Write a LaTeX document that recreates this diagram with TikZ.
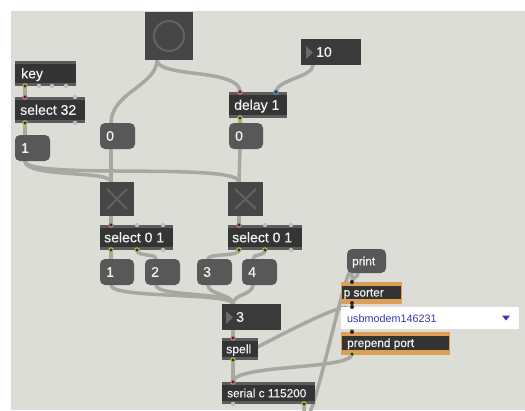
\documentclass[tikz,border=0pt]{standalone}
\usepackage{fontspec}
\setmainfont{Liberation Sans}
\newfontfamily\maxfnt{Liberation Sans}[FakeBold=0.5]
\definecolor{canvas}{RGB}{221,221,215}
\definecolor{cordc}{RGB}{168,168,163}
\definecolor{objbody}{RGB}{52,52,52}
\definecolor{objstripe}{RGB}{92,92,92}
\definecolor{msgfill}{RGB}{88,88,88}
\definecolor{uifill}{RGB}{70,70,70}
\definecolor{uimark}{RGB}{98,98,98}
\definecolor{numfill}{RGB}{58,58,58}
\definecolor{numtri}{RGB}{105,105,105}
\definecolor{orangec}{RGB}{221,158,88}
\definecolor{inring}{RGB}{215,135,135}
\definecolor{outring}{RGB}{190,195,90}
\definecolor{bluein}{RGB}{90,165,190}
\definecolor{menublue}{RGB}{55,55,175}
\definecolor{unusedc}{RGB}{190,190,190}
\definecolor{darkdot}{RGB}{40,40,40}
\pgfdeclarelayer{bg}
\pgfdeclarelayer{cords}
\pgfsetlayers{bg,cords,main}
\newcommand\fntA{\maxfnt\fontsize{14}{16}\selectfont}
\newcommand\fntB{\maxfnt\fontsize{11.8}{14}\selectfont}
\newcommand\fntC{\fontsize{10.8}{13}\selectfont}
\begin{document}
\begin{tikzpicture}[x=1pt,y=-1pt,
 base/.style={anchor=north west, inner sep=0pt, outer sep=0pt},
 obj/.style={base, fill=objbody, path picture={
   \fill[objstripe] (path picture bounding box.north west) rectangle ([yshift=-3pt]path picture bounding box.north east);
   \fill[objstripe] ([yshift=3pt]path picture bounding box.south west) rectangle (path picture bounding box.south east);}},
 oobj/.style={base, fill=objbody, draw=orangec, line width=1pt, path picture={
   \fill[orangec] (path picture bounding box.north west) rectangle ([yshift=-4pt]path picture bounding box.north east);
   \fill[orangec] ([yshift=4pt]path picture bounding box.south west) rectangle (path picture bounding box.south east);}},
 msg/.style={base, fill=msgfill, rounded corners=5pt},
 ui/.style={base, fill=uifill},
 num/.style={base, fill=numfill},
 menu/.style={base, fill=white},
 txt/.style={anchor=base west, inner sep=0pt, text=white!95!black, font=\fntA},
 stxt/.style={txt, font=\fntB},
 cord/.style={draw=cordc, line width=3.5pt, line cap=round},
 inl/.style={fill=objbody, draw=inring, line width=1pt},
 outl/.style={fill=objbody, draw=outring, line width=1pt},
 unl/.style={fill=unusedc},
 ddot/.style={fill=darkdot},
 xmark/.style={draw=uimark, line width=2pt},
 tri/.style={fill=numtri}
]
\useasboundingbox (0,0) rectangle (525,410);
\begin{pgfonlayer}{bg}
\fill[white] (0,0) rectangle (525,410);
\fill[canvas] (11,11) rectangle (525,410);
\end{pgfonlayer}

% ---------- objects ----------
\node[obj, minimum width=61pt, minimum height=25pt] (key) at (15,61) {};
\node[txt] (keyT) at ([shift={(6,4.8)}]key.west) {key};
\node[obj, minimum width=70pt, minimum height=26pt] (sel32) at (15,97) {};
\node[txt] (sel32T) at ([shift={(5,4.8)}]sel32.west) {select 32};
\node[msg, minimum width=35pt, minimum height=26pt] (msgA) at (15,135) {};
\node[txt] (msgAT) at ([shift={(6,4.8)}]msgA.west) {1};

\node[ui, minimum width=48pt, minimum height=48pt] (bang) at (145,12) {};
\draw[draw=uimark, line width=2pt] (bang.center) circle[radius=15pt];

\node[msg, minimum width=35pt, minimum height=26pt] (zeroL) at (100,123) {};
\node[txt] (zeroLT) at ([shift={(6,4.8)}]zeroL.west) {0};
\node[obj, minimum width=58pt, minimum height=26pt] (delay) at (229,92) {};
\node[txt] (delayT) at ([shift={(5,4.8)}]delay.west) {delay 1};
\node[num, minimum width=60pt, minimum height=26pt] (numTen) at (301,39) {};
\fill[tri] ([shift={(5,7)}]numTen.north west) -- ([shift={(5,20)}]numTen.north west) -- ([shift={(12,13.5)}]numTen.north west) -- cycle;
\node[txt] (numTenT) at ([shift={(15,4.8)}]numTen.west) {10};
\node[msg, minimum width=34pt, minimum height=26pt] (zeroR) at (229,123) {};
\node[txt] (zeroRT) at ([shift={(6,4.8)}]zeroR.west) {0};

\node[ui, minimum width=34pt, minimum height=34pt] (togL) at (100,182) {};
\draw[xmark] ([shift={(7,7)}]togL.north west) -- ([shift={(-7,-7)}]togL.south east);
\draw[xmark] ([shift={(-7,7)}]togL.north east) -- ([shift={(7,-7)}]togL.south west);
\node[ui, minimum width=35pt, minimum height=34pt] (togR) at (228,182) {};
\draw[xmark] ([shift={(7,7)}]togR.north west) -- ([shift={(-7,-7)}]togR.south east);
\draw[xmark] ([shift={(-7,7)}]togR.north east) -- ([shift={(7,-7)}]togR.south west);

\node[obj, minimum width=73pt, minimum height=25pt] (selL) at (100,225) {};
\node[txt] (selLT) at ([shift={(4,4.8)}]selL.west) {select 0 1};
\node[obj, minimum width=74pt, minimum height=25pt] (selR) at (228,225) {};
\node[txt] (selRT) at ([shift={(4,4.8)}]selR.west) {select 0 1};

\node[msg, minimum width=34pt, minimum height=26pt] (mOne) at (100,259) {};
\node[txt] (mOneT) at ([shift={(6,4.8)}]mOne.west) {1};
\node[msg, minimum width=35pt, minimum height=26pt] (mTwo) at (145,259) {};
\node[txt] (mTwoT) at ([shift={(6,4.8)}]mTwo.west) {2};
\node[msg, minimum width=35pt, minimum height=26pt] (mThree) at (197,259) {};
\node[txt] (mThreeT) at ([shift={(6,4.8)}]mThree.west) {3};
\node[msg, minimum width=35pt, minimum height=26pt] (mFour) at (242,259) {};
\node[txt] (mFourT) at ([shift={(6,4.8)}]mFour.west) {4};

\node[num, minimum width=59pt, minimum height=26pt] (numThree) at (222,304) {};
\fill[tri] ([shift={(4,7)}]numThree.north west) -- ([shift={(4,20)}]numThree.north west) -- ([shift={(11,13.5)}]numThree.north west) -- cycle;
\node[txt] (numThreeT) at ([shift={(14,4.8)}]numThree.west) {3};

\node[obj, minimum width=36pt, minimum height=22pt] (spell) at (222,338) {};
\node[txt, font=\maxfnt\fontsize{12.2}{14}\selectfont] (spellT) at ([shift={(4,4.3)}]spell.west) {spell};
\node[obj, minimum width=93pt, minimum height=22pt] (serial) at (222,382) {};
\node[stxt] (serialT) at ([shift={(5,4.3)}]serial.west) {serial c 115200};

\node[msg, minimum width=39pt, minimum height=24pt] (print) at (347,249) {};
\node[stxt] (printT) at ([shift={(5,4.3)}]print.west) {print};
\node[oobj, minimum width=60pt, minimum height=21pt] (psorter) at (341,282) {};
\node[stxt] (psorterT) at ([shift={(2.5,4)}]psorter.west) {p sorter};
\node[menu, minimum width=178pt, minimum height=22pt] (umenu) at (341,307) {};
\node[anchor=base west, inner sep=0pt, text=menublue, font=\fntC] (umenuT) at ([shift={(6,4)}]umenu.west) {usbmodem146231};
\fill[menublue] ([shift={(-17,-2.5)}]umenu.east) -- ([shift={(-9,-2.5)}]umenu.east) -- ([shift={(-13,2.5)}]umenu.east) -- cycle;
\node[oobj, minimum width=108pt, minimum height=22pt] (prepend) at (341,332) {};
\node[stxt] (prependT) at ([shift={(6,4)}]prepend.west) {prepend port};

% ---------- patch cords ----------
\begin{pgfonlayer}{cords}
\draw[cord] ([xshift=10pt]key.south west) -- ([xshift=10pt]sel32.north west);
\draw[cord] ([xshift=10pt]sel32.south west) -- ([xshift=10pt]msgA.north west);
\draw[cord] ([xshift=10pt]msgA.south west) .. controls +(0,17) and +(0,-12) .. ([xshift=11pt]togL.north west);
\draw[cord] ([xshift=10pt]msgA.south west) .. controls +(0,19) and +(0,-20) .. ([xshift=11pt]togR.north west);
\draw[cord] ([xshift=12pt]bang.south west) .. controls +(0,25) and +(0,-30) .. ([xshift=11pt]zeroL.north west);
\draw[cord] ([xshift=12pt]bang.south west) .. controls +(0,18) and +(0,-24) .. ([xshift=11pt]delay.north west);
\draw[cord] ([xshift=12pt]numTen.south west) .. controls +(0,12) and +(0,-12) .. ([xshift=-11pt]delay.north east);
\draw[cord] ([xshift=11pt]delay.south west) -- ([xshift=11pt]zeroR.north west);
\draw[cord] ([xshift=11pt]zeroL.south west) -- ([xshift=11pt]togL.north west);
\draw[cord] ([xshift=11pt]zeroR.south west) -- ([xshift=11pt]togR.north west);
\draw[cord] ([xshift=11pt]togL.south west) -- ([xshift=11pt]selL.north west);
\draw[cord] ([xshift=11pt]togR.south west) -- ([xshift=11pt]selR.north west);
\draw[cord] ([xshift=11pt]selL.south west) -- ([xshift=11pt]mOne.north west);
\draw[cord] ([xshift=37pt]selL.south west) .. controls +(0,7) and +(0,-6) .. ([xshift=11pt]mTwo.north west);
\draw[cord] ([xshift=11pt]selR.south west) .. controls +(0,7) and +(0,-6) .. ([xshift=11pt]mThree.north west);
\draw[cord] ([xshift=37pt]selR.south west) .. controls +(0,7) and +(0,-6) .. ([xshift=11pt]mFour.north west);
\draw[cord] ([xshift=11pt]mOne.south west) .. controls +(0,14) and +(0,-12) .. ([xshift=11pt]numThree.north west);
\draw[cord] ([xshift=11pt]mTwo.south west) .. controls +(0,12) and +(0,-12) .. ([xshift=11pt]numThree.north west);
\draw[cord] ([xshift=11pt]mThree.south west) .. controls +(0,10) and +(0,-10) .. ([xshift=11pt]numThree.north west);
\draw[cord] ([xshift=11pt]mFour.south west) .. controls +(0,10) and +(0,-10) .. ([xshift=11pt]numThree.north west);
\draw[cord] ([xshift=11pt]numThree.south west) -- ([xshift=11pt]spell.north west);
\draw[cord] ([xshift=11pt]spell.south west) -- ([xshift=11pt]serial.north west);
\draw[cord] ([xshift=11pt]spell.south west) .. controls +(47,-25) and +(-16,2) .. ([xshift=5pt]umenu.north west);
\draw[cord] ([xshift=11pt]prepend.south west) .. controls +(0,16) and +(0,-18) .. ([xshift=11pt]serial.north west);
\draw[cord] ([xshift=-11pt]serial.south east) .. controls +(0,76) and +(2,-67) .. ([xshift=11pt]psorter.north west);
\draw[cord] ([xshift=11pt]print.south west) .. controls +(0,5) and +(0,-5) .. ([xshift=11pt]psorter.north west);
\draw[cord] ([xshift=11pt]psorter.south west) -- ([xshift=11pt]umenu.north west);
\draw[cord] ([xshift=11pt]umenu.south west) -- ([xshift=11pt]prepend.north west);
\end{pgfonlayer}

% ---------- inlets / outlets ----------
\draw[outl] ([xshift=10pt]key.south west) circle[radius=2.2pt];
\foreach \dx in {24,37,51} \fill[unl] ([xshift=\dx pt]key.south west) circle[radius=2.2pt];
\draw[inl] ([xshift=10pt]sel32.north west) circle[radius=2.2pt];
\fill[unl] ([xshift=-10pt]sel32.north east) circle[radius=2.2pt];
\draw[outl] ([xshift=10pt]sel32.south west) circle[radius=2.2pt];
\fill[unl] ([xshift=-10pt]sel32.south east) circle[radius=2.2pt];
\draw[inl] ([xshift=11pt]delay.north west) circle[radius=2.2pt];
\draw[fill=objbody, draw=bluein, line width=1pt] ([xshift=-11pt]delay.north east) circle[radius=2.2pt];
\draw[outl] ([xshift=11pt]delay.south west) circle[radius=2.2pt];
\draw[inl] ([xshift=11pt]selL.north west) circle[radius=2.2pt];
\fill[unl] ([xshift=37pt]selL.north west) circle[radius=2.2pt];
\fill[unl] ([xshift=63pt]selL.north west) circle[radius=2.2pt];
\draw[outl] ([xshift=11pt]selL.south west) circle[radius=2.2pt];
\draw[outl] ([xshift=37pt]selL.south west) circle[radius=2.2pt];
\fill[unl] ([xshift=63pt]selL.south west) circle[radius=2.2pt];
\draw[inl] ([xshift=11pt]selR.north west) circle[radius=2.2pt];
\fill[unl] ([xshift=37pt]selR.north west) circle[radius=2.2pt];
\fill[unl] ([xshift=63pt]selR.north west) circle[radius=2.2pt];
\draw[outl] ([xshift=11pt]selR.south west) circle[radius=2.2pt];
\draw[outl] ([xshift=37pt]selR.south west) circle[radius=2.2pt];
\fill[unl] ([xshift=63pt]selR.south west) circle[radius=2.2pt];
\draw[inl] ([xshift=11pt]spell.north west) circle[radius=2.2pt];
\draw[outl] ([xshift=11pt]spell.south west) circle[radius=2.2pt];
\draw[inl] ([xshift=11pt]serial.north west) circle[radius=2.2pt];
\fill[unl] ([xshift=11pt]serial.south west) circle[radius=2.2pt];
\draw[outl] ([xshift=-11pt]serial.south east) circle[radius=2.2pt];
\fill[ddot] ([xshift=11pt]psorter.north west) circle[radius=2pt];
\fill[ddot] ([xshift=11pt]psorter.south west) circle[radius=2pt];
\fill[ddot] ([xshift=11pt]umenu.north west) circle[radius=2pt];
\fill[ddot] ([xshift=11pt]prepend.north west) circle[radius=2pt];
\draw[outl] ([xshift=11pt]prepend.south west) circle[radius=2.2pt];
\end{tikzpicture}
\end{document}
